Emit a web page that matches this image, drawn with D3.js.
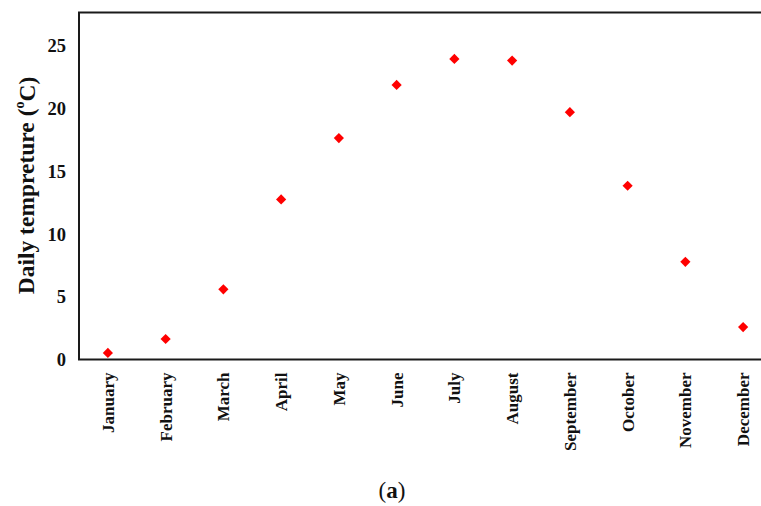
<!DOCTYPE html>
<html>
<head>
<meta charset="utf-8">
<script src="https://cdn.jsdelivr.net/npm/d3@7"></script>
<style>
  html, body { margin: 0; padding: 0; background: #fff; }
  svg { display: block; }
</style>
</head>
<body>
<svg id="chart" width="761" height="506"></svg>
<script>
// Monthly mean daily temperature
const months = ["January", "February", "March", "April", "May", "June",
                "July", "August", "September", "October", "November", "December"];
const temps = [0.52, 1.63, 5.58, 12.73, 17.61, 21.84, 23.91, 23.78, 19.67, 13.82, 7.77, 2.58];
const yTicks = [0, 5, 10, 15, 20, 25];

const svg = d3.select("#chart");
const plot = { left: 79, right: 772, top: 12.5, bottom: 359.5 };

const x = d3.scaleBand().domain(months).range([plot.left, plot.right]);
const y = d3.scaleLinear().domain([0, 27.6]).range([plot.bottom, plot.top]);

const serif = "'Liberation Serif', 'Times New Roman', serif";

// Plot frame (right edge runs past the page)
svg.append("rect")
  .attr("x", plot.left).attr("y", plot.top)
  .attr("width", plot.right - plot.left).attr("height", plot.bottom - plot.top)
  .attr("fill", "none").attr("stroke", "#1a1a1a").attr("stroke-width", 2);

// Y axis labels
const yAxis = d3.axisLeft(y).tickValues(yTicks).tickSize(0).tickPadding(13);
const gy = svg.append("g").attr("transform", `translate(${plot.left},0)`).call(yAxis);
gy.select(".domain").remove();
gy.selectAll("text")
  .attr("font-family", serif).attr("font-weight", "bold").attr("font-size", 18.5)
  .attr("fill", "#111").attr("dy", "0.34em");

// X axis labels, rotated
const xAxis = d3.axisBottom(x).tickSize(0);
const gx = svg.append("g").attr("transform", `translate(0,${plot.bottom})`).call(xAxis);
gx.select(".domain").remove();
gx.selectAll("text")
  .attr("font-family", serif).attr("font-weight", "bold").attr("font-size", 17)
  .attr("fill", "#111")
  .attr("text-anchor", "end")
  .attr("transform", "rotate(-90)")
  .attr("x", -13).attr("y", 0).attr("dy", "0.35em");

// Y axis title
const yTitle = svg.append("text")
  .attr("transform", `translate(34,${(78 + 293) / 2}) rotate(-90)`)
  .attr("text-anchor", "middle")
  .attr("font-family", serif).attr("font-weight", "bold").attr("font-size", 23.5)
  .attr("fill", "#111");
yTitle.append("tspan").text("Daily tempreture (");
yTitle.append("tspan").attr("font-size", 14).attr("dy", "-0.7em").text("o");
yTitle.append("tspan").attr("dy", "0.45em").text("C)");

// Data points as red diamonds
const diamond = d3.symbol().type(d3.symbolSquare).size(52);
svg.append("g").selectAll("path")
  .data(months.map((m, i) => ({ m, v: temps[i] })))
  .join("path")
  .attr("d", diamond)
  .attr("transform", d => `translate(${x(d.m) + x.bandwidth() / 2},${y(d.v)}) rotate(45)`)
  .attr("fill", "#ff0000");

// Panel caption
const cap = svg.append("text")
  .attr("x", 392).attr("y", 498)
  .attr("text-anchor", "middle")
  .attr("font-family", serif).attr("font-size", 23).attr("fill", "#111");
cap.append("tspan").text("(");
cap.append("tspan").attr("font-weight", "bold").text("a");
cap.append("tspan").text(")");
</script>
</body>
</html>
